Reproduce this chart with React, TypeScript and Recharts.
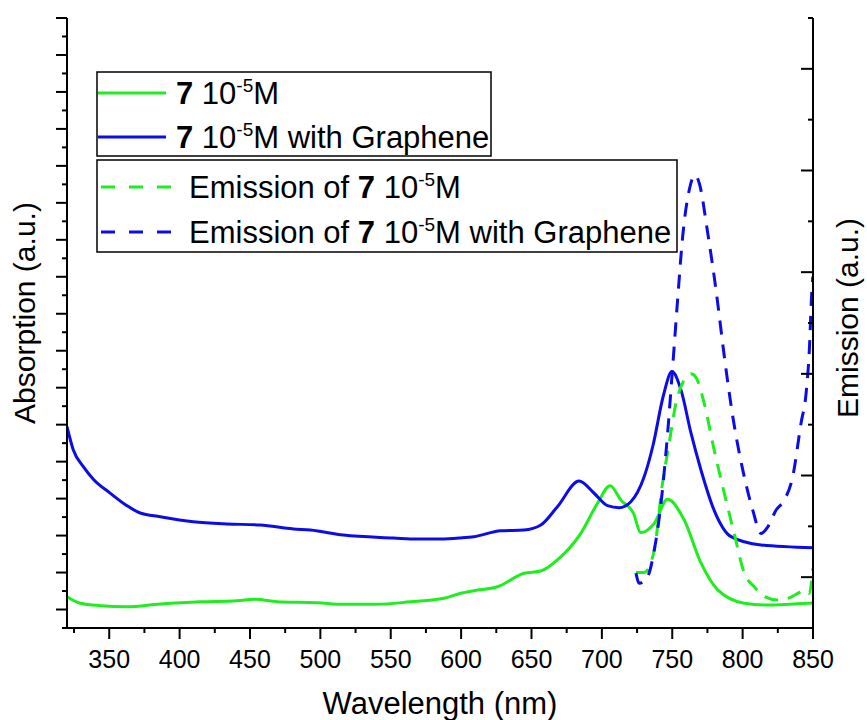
import React from "react"
import { LineChart, Line, XAxis, YAxis } from "recharts"

const FONT = '"Liberation Sans", Arial, Helvetica, sans-serif'
const GREEN = "#1eee1e"
const BLUE = "#0c0ceb"

// x axis ticks (nm): labelled every 50, minor every 25
const xTicks = [325, 350, 375, 400, 425, 450, 475, 500, 525, 550, 575, 600, 625, 650, 675, 700, 725, 750, 775, 800, 825, 850]
// unlabelled y ticks
const absTicks = [0, 1, 2, 3, 4, 5, 6, 7, 8, 9, 10, 11, 12, 13, 14, 15, 16, 17, 18, 19, 20, 21, 22, 23, 24, 25, 26, 27, 28, 29, 30, 31, 32, 33]
const emTicks = [0, 1, 2, 3, 4, 5, 6, 7, 8, 9, 10, 11, 12]

// absorption of 7 (10^-5 M)
const absNm = [320, 329.5, 343.7, 362.5, 386.2, 414.6, 438, 453.9, 469.3, 497.8, 516.4, 540.4, 564, 587.8, 599.7, 609.1, 625.8, 644.7, 656.6, 668.4, 685, 696.9, 705.9, 713.5, 722.4, 727.7, 737.2, 746.7, 758.5, 770.4, 782.3, 801.2, 817.8, 836, 850]
const absVal = [1.69, 1.34, 1.21, 1.15, 1.3, 1.42, 1.46, 1.55, 1.42, 1.37, 1.28, 1.28, 1.42, 1.61, 1.88, 2.02, 2.23, 2.96, 3.08, 3.68, 5.12, 6.75, 7.7, 6.92, 6.21, 5.16, 5.66, 6.96, 5.84, 3.52, 2.06, 1.34, 1.24, 1.3, 1.35]

// absorption of 7 with graphene
const absGrNm = [320, 324.5, 331.6, 338.7, 350.6, 362.5, 372, 386.2, 409.7, 433.6, 457.3, 480.8, 492.9, 516.4, 552, 569, 585.4, 599.6, 609.1, 628.1, 644.7, 656.6, 668.4, 683.8, 694.5, 704, 712.3, 720.6, 730.1, 736.4, 743.5, 749.8, 756.2, 763.3, 770.4, 779.7, 791.8, 813.1, 850]
const absGrVal = [10.89, 9.63, 8.73, 8.05, 7.3, 6.62, 6.22, 6.02, 5.75, 5.63, 5.57, 5.36, 5.3, 5.03, 4.87, 4.81, 4.81, 4.87, 4.94, 5.26, 5.3, 5.57, 6.56, 7.95, 7.29, 6.62, 6.51, 6.83, 8.19, 9.9, 12.51, 13.87, 12.88, 10.55, 8.55, 6.38, 4.94, 4.49, 4.34]

// emission of 7
const emNm = [724.2, 730.1, 737.2, 743.1, 747.8, 752.6, 758.5, 763.3, 766.8, 772.7, 779.8, 787, 794, 801.2, 808.3, 815.4, 824.9, 832, 839.1, 843.9, 847.4, 849.8]
const emVal = [1.09, 1.09, 1.53, 2.85, 3.63, 4.42, 4.88, 5.0, 4.93, 4.42, 3.5, 2.65, 1.86, 1.08, 0.81, 0.62, 0.55, 0.58, 0.68, 0.75, 0.68, 1.17]

// emission of 7 with graphene
const emGrNm = [724.2, 726.6, 732.5, 737.2, 742, 746.7, 750.3, 753.8, 757.4, 762.1, 766.2, 769.2, 775.2, 781.1, 787, 793, 800.1, 807.2, 813.1, 817.9, 823.8, 829.7, 835.6, 841.5, 845.1, 847.4, 849.2, 849.9]
const emGrVal = [1.08, 0.88, 1.01, 1.53, 2.45, 3.83, 5.14, 6.45, 7.7, 8.62, 8.91, 8.75, 7.77, 6.65, 5.34, 4.16, 3.11, 2.32, 1.86, 1.99, 2.32, 2.52, 2.98, 4.03, 4.62, 5.47, 6.65, 6.91]

const toPoints = (xs: number[], ys: number[]) => xs.map((x, i) => ({ x, y: ys[i] }))

const XTick = (props: any) => {
  const { x, y, payload } = props
  const major = payload.value % 50 === 0
  return (
    <g>
      <line x1={x} x2={x} y1={y} y2={y + (major ? 11 : 5)} stroke="#000" strokeWidth={2} />
      {major && (
        <text x={x} y={y + 40} textAnchor="middle" fontSize={25} fontFamily={FONT} fill="#000">
          {payload.value}
        </text>
      )}
    </g>
  )
}

const LeftTick = (props: any) => {
  const { x, y, payload } = props
  const major = payload.value % 2 === 1
  return <line x1={x} x2={x - (major ? 11 : 5)} y1={y} y2={y} stroke="#000" strokeWidth={2} />
}

const RightTick = (props: any) => {
  const { x, y, payload } = props
  const major = payload.value % 2 === 1
  return <line x1={x} x2={x - (major ? 12 : 5)} y1={y} y2={y} stroke="#000" strokeWidth={2} />
}

const Conc = () => (
  <>
    <tspan fontWeight="bold">7</tspan>
    <tspan> 10</tspan>
    <tspan dy={-12} fontSize={19}>-5</tspan>
    <tspan dy={12}>M</tspan>
  </>
)

const LegendOverlay = () => (
  <svg width={867} height={720} style={{ position: "absolute", left: 0, top: 0, pointerEvents: "none" }}>
    <g fontFamily={FONT} fontSize={31} fill="#000">
      <rect x={97} y={72} width={394} height={84} fill="#fff" stroke="#000" strokeWidth={1.5} />
      <line x1={98} x2={166} y1={93} y2={93} stroke={GREEN} strokeWidth={3} />
      <text x={176} y={104}><Conc /></text>
      <line x1={98} x2={166} y1={137} y2={137} stroke={BLUE} strokeWidth={3} />
      <text x={176} y={148}><Conc /><tspan> with Graphene</tspan></text>

      <rect x={97} y={160} width={580} height={92} fill="#fff" stroke="#000" strokeWidth={1.5} />
      <line x1={101} x2={171} y1={187} y2={187} stroke={GREEN} strokeWidth={3} strokeDasharray="14 14" />
      <text x={189} y={198}>Emission of <Conc /></text>
      <line x1={101} x2={171} y1={232} y2={232} stroke={BLUE} strokeWidth={3} strokeDasharray="14 14" />
      <text x={189} y={243}>Emission of <Conc /><tspan> with Graphene</tspan></text>
    </g>
  </svg>
)

export default function App() {
  return (
    <div style={{ position: "absolute", left: 0, top: 0, width: 867, height: 720, background: "#fff" }}>
      <LineChart width={867} height={720} margin={{ top: 18, right: 0, bottom: 0, left: 0 }}>
        <XAxis
          type="number"
          dataKey="x"
          domain={[320, 850]}
          ticks={xTicks}
          interval={0}
          allowDataOverflow
          height={92}
          tickSize={0}
          tickMargin={0}
          tickLine={false}
          tick={XTick}
          axisLine={{ stroke: "#000", strokeWidth: 2 }}
          label={{
            content: () => (
              <text x={440} y={714} textAnchor="middle" fontSize={31} fontFamily={FONT} fill="#000">
                Wavelength (nm)
              </text>
            ),
          }}
        />
        <YAxis
          yAxisId="abs"
          orientation="left"
          width={67}
          domain={[0, 33]}
          ticks={absTicks}
          interval={0}
          allowDataOverflow
          tickSize={0}
          tickMargin={0}
          tickLine={false}
          tick={LeftTick}
          axisLine={{ stroke: "#000", strokeWidth: 2 }}
          label={{
            content: () => (
              <text transform="translate(35, 313) rotate(-90)" textAnchor="middle" fontSize={30} fontFamily={FONT} fill="#000">
                Absorption (a.u.)
              </text>
            ),
          }}
        />
        <YAxis
          yAxisId="em"
          orientation="right"
          width={54}
          domain={[0, 12]}
          ticks={emTicks}
          interval={0}
          allowDataOverflow
          tickSize={0}
          tickMargin={0}
          tickLine={false}
          tick={RightTick}
          axisLine={{ stroke: "#000", strokeWidth: 2 }}
          label={{
            content: () => (
              <text transform="translate(858, 318) rotate(-90)" textAnchor="middle" fontSize={30} fontFamily={FONT} fill="#000">
                Emission (a.u.)
              </text>
            ),
          }}
        />
        <Line yAxisId="abs" data={toPoints(absNm, absVal)} dataKey="y" type="monotone" stroke={GREEN} strokeWidth={3} dot={false} isAnimationActive={false} />
        <Line yAxisId="abs" data={toPoints(absGrNm, absGrVal)} dataKey="y" type="monotone" stroke={BLUE} strokeWidth={3} dot={false} isAnimationActive={false} />
        <Line yAxisId="em" data={toPoints(emNm, emVal)} dataKey="y" type="monotone" stroke={GREEN} strokeWidth={3} strokeDasharray="14 10" dot={false} isAnimationActive={false} />
        <Line yAxisId="em" data={toPoints(emGrNm, emGrVal)} dataKey="y" type="monotone" stroke={BLUE} strokeWidth={3} strokeDasharray="14 10" dot={false} isAnimationActive={false} />
      </LineChart>
      <LegendOverlay />
    </div>
  )
}
